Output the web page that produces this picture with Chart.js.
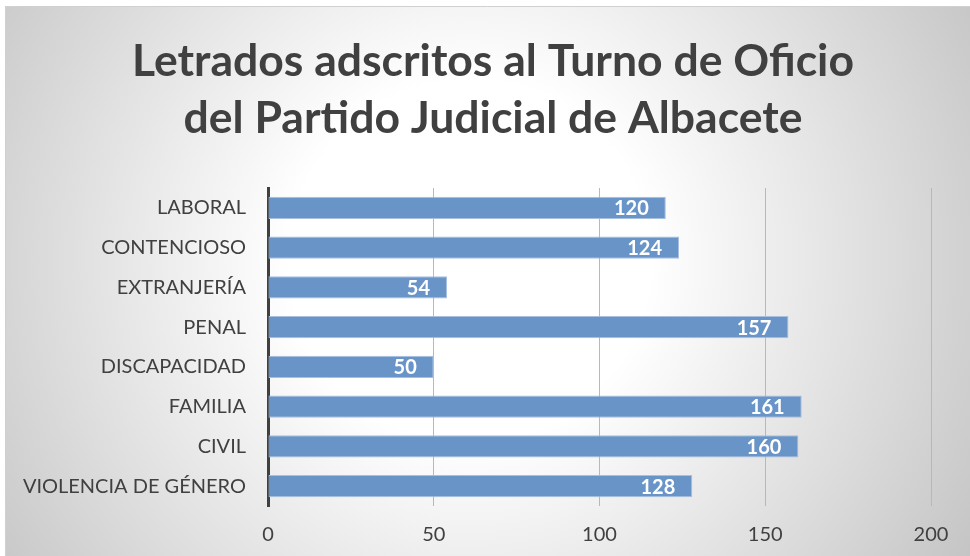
<!DOCTYPE html>
<html>
<head>
<meta charset="utf-8">
<script src="https://cdn.jsdelivr.net/npm/chart.js@4"></script>
<style>
html,body{margin:0;padding:0;background:#fff;}
#wrap{width:970px;height:556px;position:relative;}
</style>
</head>
<body>
<div id="wrap"><canvas id="c" width="970" height="556"></canvas></div>
<script>
const categories = ["LABORAL","CONTENCIOSO","EXTRANJERÍA","PENAL","DISCAPACIDAD","FAMILIA","CIVIL","VIOLENCIA DE GÉNERO"];
const values = [120,124,54,157,50,161,160,128];
const titleLines = ["Letrados adscritos al Turno de Oficio","del Partido Judicial de Albacete"];
const xMin = 0, xMax = 200, xStep = 50;

const FONT = "Lato, 'Open Sans', sans-serif";

const bgPlugin = {
  id: 'bg',
  beforeDraw(chart) {
    const ctx = chart.ctx;
    ctx.save();
    ctx.fillStyle = '#ffffff';
    ctx.fillRect(0,0,chart.width,chart.height);
    const g = ctx.createRadialGradient(470,260,0,470,260,600);
    g.addColorStop(0,'#ffffff');
    g.addColorStop(0.3,'#ffffff');
    g.addColorStop(1,'#c2c2c2');
    ctx.fillStyle = g;
    ctx.fillRect(5,6,chart.width-5,chart.height-6);
    ctx.strokeStyle = '#d0d0d0';
    ctx.lineWidth = 1;
    ctx.beginPath();
    ctx.moveTo(5.5,chart.height);
    ctx.lineTo(5.5,6.5);
    ctx.lineTo(chart.width,6.5);
    ctx.stroke();
    ctx.restore();
  }
};

const titlePlugin = {
  id: 'ctitle',
  afterDraw(chart) {
    const ctx = chart.ctx;
    ctx.save();
    ctx.fillStyle = '#404040';
    ctx.font = "bold 44.5px " + FONT;
    ctx.textAlign = 'center';
    ctx.textBaseline = 'middle';
    titleLines.forEach((t, i) => ctx.fillText(t, 493, 62 + i * 57));
    ctx.restore();
  }
};

const labelPlugin = {
  id: 'vlabels',
  afterDatasetsDraw(chart) {
    const ctx = chart.ctx;
    const meta = chart.getDatasetMeta(0);
    ctx.save();
    ctx.fillStyle = '#ffffff';
    ctx.font = "bold 20px " + FONT;
    ctx.textAlign = 'right';
    ctx.textBaseline = 'middle';
    meta.data.forEach((bar, i) => {
      ctx.fillText(String(chart.data.datasets[0].data[i]), bar.x - 17, bar.y + 1);
    });
    ctx.restore();
  }
};

new Chart(document.getElementById('c'), {
  type: 'bar',
  data: {
    labels: categories,
    datasets: [{
      data: values,
      backgroundColor: '#6894c8',
      borderColor: '#a8c0e0',
      borderWidth: 1,
      borderSkipped: false,
      barPercentage: 0.56,
      categoryPercentage: 1.0
    }]
  },
  options: {
    indexAxis: 'y',
    responsive: false,
    animation: false,
    devicePixelRatio: 1,
    layout: { padding: { left: 0, right: 39, top: 188, bottom: 0 } },
    plugins: {
      legend: { display: false },
      tooltip: { enabled: false },
      title: { display: false }
    },
    scales: {
      x: {
        min: xMin, max: xMax,
        ticks: { stepSize: xStep, color: '#404040', font: { family: FONT, size: 20 }, padding: 17 },
        grid: { color: (c) => c.tick && c.tick.value === 0 ? 'rgba(0,0,0,0)' : '#b8b8b8', lineWidth: 1, drawTicks: false },
        border: { display: false },
        afterFit: (s) => { s.height = 50; }
      },
      y: {
        ticks: { color: '#404040', font: { family: FONT, size: 20 }, padding: 22 },
        grid: { display: false, drawTicks: false },
        border: { display: true, color: '#404040', width: 3 },
        afterFit: (s) => { s.width = 268; }
      }
    }
  },
  plugins: [bgPlugin, labelPlugin, titlePlugin]
});
</script>
</body>
</html>
